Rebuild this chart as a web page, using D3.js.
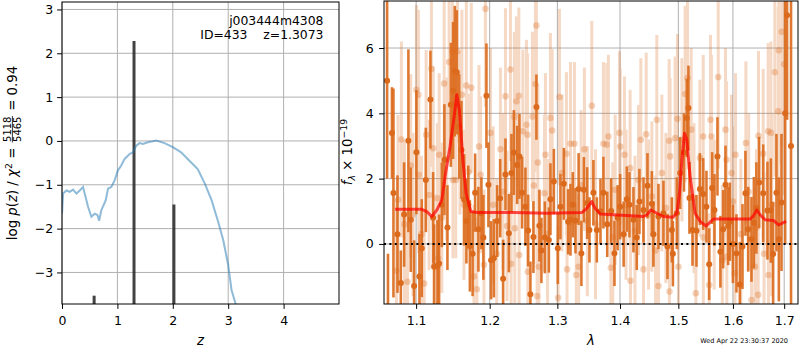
<!DOCTYPE html>
<html><head><meta charset="utf-8">
<script src="https://cdn.jsdelivr.net/npm/d3@7"></script>
<style>body{margin:0;background:#fff} svg{display:block} text{font-family:"DejaVu Sans",sans-serif;white-space:pre}</style>
</head><body><svg id="c" width="800" height="350"></svg>
<script>
// ---------- left panel data: p(z) ----------
const pzZ   = [0.00,0.02,0.08,0.14,0.20,0.26,0.32,0.38,0.41,0.47,0.53,0.59,0.64,0.67,0.71,0.79,0.83,0.89,0.95,1.01,1.07,1.13,1.22,1.28,1.34,1.40,1.46,1.55,1.70,1.85,2.00,2.15,2.30,2.45,2.58,2.70,2.82,2.91,3.00,3.06,3.13,3.16];
const pzLog = [-1.66,-1.20,-1.13,-1.16,-1.11,-1.20,-1.13,-1.05,-1.20,-1.50,-1.73,-1.66,-1.69,-1.82,-1.58,-1.35,-1.09,-1.05,-0.90,-0.67,-0.56,-0.41,-0.30,-0.26,-0.11,-0.05,-0.07,-0.03,0.01,-0.05,-0.14,-0.26,-0.45,-0.64,-0.98,-1.35,-1.85,-2.26,-2.83,-3.40,-3.70,-3.80];
const barZ   = [0.58, 1.30, 2.02];
const barTop = [-3.53, 2.28, -1.45];
const zTicks = [0,1,2,3,4];
const logpTicks = [-3,-2,-1,0,1,2,3];
const titleLines = ["j003444m4308", "ID=433    z=1.3073"];

// ---------- right panel data: spectrum ----------
const darkLam  = [1.0629,1.0640,1.0690,1.0709,1.0760,1.0803,1.0845,1.0900,1.0931,1.0974,1.1004,1.1043,1.1074,1.1127,1.1188,1.1223,1.1237,1.1281,1.1303,1.1340,1.1374,1.1415,1.1461,1.1492,1.1515,1.1542,1.1575,1.1606,1.1643,1.1674,1.1700,1.1722,1.1760,1.1795,1.1841,1.1883,1.1911,1.1954,1.1982,1.2020,1.2059,1.2106,1.2150,1.2192,1.2226,1.2275,1.2313,1.2348,1.2396,1.2430,1.2469,1.2518,1.2558,1.2592,1.2637,1.2682,1.2727,1.2757,1.2809,1.2870,1.2894,1.2946,1.3007,1.3047,1.3100,1.3167,1.3203,1.3240,1.3281,1.3331,1.3375,1.3414,1.3466,1.3503,1.3566,1.3621,1.3680,1.3728,1.3790,1.3854,1.3908,1.3960,1.4002,1.4060,1.4113,1.4157,1.4224,1.4280,1.4325,1.4394,1.4462,1.4537,1.4564,1.4651,1.4738,1.4808,1.4885,1.4903,1.4973,1.5032,1.5100,1.5151,1.5180,1.5198,1.5253,1.5325,1.5387,1.5447,1.5507,1.5557,1.5612,1.5654,1.5710,1.5765,1.5816,1.5860,1.5910,1.5942,1.6000,1.6067,1.6132,1.6182,1.6239,1.6291,1.6355,1.6401,1.6450,1.6504,1.6583,1.6667,1.6734,1.6779,1.6845,1.6893,1.6946,1.7020,1.7058,1.7138];
const darkFlux = [5.0,-2.3,3.4,1.56,0.3,-1.2,0.9,3.16,0.74,-1.29,2.81,-1.0,-0.13,1.96,4.42,0.8,-0.7,-0.67,-0.6,1.2,2.58,0.5,4.26,4.7,5.29,5.26,3.6,2.88,1.35,0.7,1.2,-0.06,-0.3,1.57,0.45,0.94,0.2,4.54,1.81,-0.5,-0.44,0.7,1.4,-1.07,2.13,0.33,2.17,2.8,2.42,2.68,1.57,1.14,0.41,-1.54,0.21,4.19,0.56,-0.2,0.2,0.12,1.37,1.91,-0.13,1.14,1.84,0.68,0.74,1.2,0.71,1.68,-0.29,1.66,1.25,0.43,1.57,0.43,1.0,1.57,0.6,1.01,-0.29,0.8,1.14,0.3,1.37,1.2,0.74,0.2,1.3,1.04,1.78,1.23,0.3,0.84,0.94,-0.08,0.43,-0.3,0.94,2.17,2.8,3.86,4.16,1.41,0.43,0.4,1.68,1.53,1.14,-0.62,1.71,1.04,2.68,-0.24,0.45,1.81,0.55,0.68,0.0,-0.29,-1.24,-0.08,1.55,0.45,0.14,0.65,1.1,1.88,1.55,1.02,1.02,-0.31,1.57,0.14,1.27,4.0,7.0,3.0];
const darkErr  = [3.0,2.0,1.4,3.2,1.8,1.0,1.6,2.8,1.6,1.4,1.9,1.3,1.5,1.6,1.5,1.4,1.3,1.4,1.5,1.3,1.7,1.3,1.9,2.1,2.0,1.9,1.6,1.5,1.4,1.3,1.2,1.4,1.3,1.2,1.3,1.1,1.3,1.6,1.3,1.2,1.2,1.1,1.2,1.2,1.1,1.2,1.2,1.3,1.2,1.3,1.1,1.2,1.1,1.0,1.1,1.0,1.1,1.0,1.1,1.0,1.1,1.0,1.1,1.0,1.1,1.0,1.1,1.0,1.0,1.1,1.0,1.0,1.1,1.0,1.0,1.0,1.0,1.1,1.0,1.0,1.0,1.0,1.0,1.0,1.0,1.0,1.0,1.0,1.0,1.0,1.0,1.0,1.0,1.0,1.0,1.0,1.0,1.0,1.1,1.1,1.2,1.2,1.3,1.1,1.1,1.1,1.1,1.1,1.1,1.1,1.1,1.1,1.2,1.1,1.2,1.2,1.2,1.2,1.2,1.2,1.3,1.3,1.3,1.3,1.3,1.4,1.4,1.4,1.5,1.5,1.6,1.6,1.8,1.9,2.1,4.0,3.2,6.0];

const lightLam  = [1.0747,1.0768,1.0810,1.0850,1.0888,1.0930,1.0960,1.1004,1.1030,1.1035,1.1070,1.1105,1.1131,1.1170,1.1201,1.1224,1.1237,1.1281,1.1290,1.1304,1.1340,1.1371,1.1405,1.1438,1.1482,1.1490,1.1528,1.1551,1.1585,1.1612,1.1640,1.1673,1.1705,1.1742,1.1779,1.1819,1.1849,1.1872,1.1919,1.1940,1.2011,1.2050,1.2100,1.2153,1.2190,1.2226,1.2249,1.2298,1.2308,1.2356,1.2362,1.2386,1.2421,1.2425,1.2480,1.2533,1.2548,1.2554,1.2622,1.2644,1.2667,1.2682,1.2693,1.2703,1.2718,1.2803,1.2818,1.2850,1.2894,1.2920,1.3011,1.3032,1.3071,1.3140,1.3150,1.3203,1.3265,1.3294,1.3331,1.3370,1.3423,1.3470,1.3540,1.3600,1.3728,1.3783,1.3809,1.3849,1.3880,1.3920,1.3991,1.4002,1.4073,1.4100,1.4168,1.4175,1.4250,1.4309,1.4349,1.4394,1.4440,1.4480,1.4537,1.4600,1.4623,1.4651,1.4710,1.4780,1.4838,1.4843,1.4855,1.4944,1.4984,1.5002,1.5063,1.5121,1.5163,1.5229,1.5280,1.5314,1.5387,1.5447,1.5450,1.5557,1.5581,1.5599,1.5650,1.5724,1.5800,1.5860,1.5879,1.5885,1.5973,1.6000,1.6037,1.6049,1.6150,1.6247,1.6300,1.6355,1.6421,1.6450,1.6485,1.6491,1.6583,1.6600,1.6681,1.6687,1.6734,1.6750,1.6813,1.6879,1.6893,1.6950,1.7000];
const lightFlux = [-0.82,1.35,3.2,0.6,-1.16,2.4,0.9,4.72,4.57,2.12,0.3,-1.21,3.34,1.5,5.36,2.93,-0.67,1.4,-0.44,2.73,0.8,4.91,2.6,5.57,5.9,1.96,1.96,5.9,3.4,4.57,1.2,4.85,2.2,4.78,-1.0,-1.39,2.98,2.12,-0.64,7.2,3.4,1.2,-0.3,2.9,1.6,4.52,0.55,5.34,-0.61,3.89,0.48,4.37,4.54,-0.34,3.45,3.65,3.34,-0.85,3.9,1.79,4.9,6.69,-1.6,2.49,-0.7,1.55,2.73,0.3,3.86,3.47,-1.65,4.5,2.17,2.76,-0.78,3.07,3.07,-0.95,-0.7,1.8,2.9,0.7,4.23,0.6,3.07,3.04,3.29,-0.73,0.2,1.66,3.4,2.98,2.73,1.2,2.32,-1.13,0.4,1.96,3.19,-0.78,3.36,0.9,1.45,-0.2,3.8,-1.29,2.17,1.1,3.16,-1.46,2.68,3.24,3.83,-0.7,3.19,4.59,5.08,3.5,1.4,-1.51,2.63,3.29,0.2,-1.26,3.8,3.29,0.9,5.11,-0.5,3.5,2.58,-0.39,2.17,1.3,-0.9,2.73,0.3,3.09,1.6,-1.72,-0.7,0.5,-1.56,3.31,2.76,-0.3,3.45,-0.95,3.4,1.2,5.26,4.06,5.93,6.5,5.5];
const lightErr  = [2.2,2.6,3.0,2.6,2.2,2.8,2.5,2.6,2.6,2.4,2.4,2.2,2.6,2.3,3.0,2.5,2.2,2.3,2.2,2.5,2.3,2.8,2.5,2.8,2.8,2.4,2.4,2.8,2.5,2.6,2.3,2.6,2.4,2.6,2.2,2.2,2.5,2.4,2.3,3.0,2.6,2.4,2.3,2.5,2.4,2.7,2.3,2.8,2.2,2.6,2.3,2.6,2.7,2.3,2.5,2.6,2.5,2.3,2.6,2.4,2.7,3.0,2.2,2.4,2.2,2.4,2.5,2.3,2.6,2.5,2.2,2.7,2.4,2.5,2.2,2.5,2.5,2.2,2.2,2.3,2.5,2.3,2.6,2.3,2.5,2.5,2.5,2.2,2.3,2.3,2.5,2.4,2.4,2.3,2.4,2.2,2.3,2.3,2.5,2.2,2.5,2.3,2.3,2.3,2.6,2.2,2.4,2.3,2.5,2.2,2.4,2.5,2.6,2.2,2.5,2.7,2.8,2.5,2.3,2.2,2.4,2.5,2.3,2.2,2.6,2.5,2.3,2.8,2.3,2.5,2.4,2.3,2.4,2.3,2.3,2.5,2.3,2.5,2.4,2.3,2.4,2.4,2.4,2.6,2.6,2.5,2.7,2.5,2.8,2.8,3.2,3.2,3.5,3.5,4.0];

const modelLam  = [1.073,1.1074,1.1140,1.1206,1.1273,1.1340,1.1384,1.1451,1.1506,1.1542,1.1578,1.1625,1.1670,1.1735,1.1819,1.2342,1.2839,1.3382,1.3461,1.3540,1.3593,1.3674,1.3890,1.4394,1.4452,1.4520,1.4624,1.4738,1.4903,1.4974,1.5020,1.5063,1.5109,1.5151,1.5210,1.5300,1.5391,1.5500,1.5634,1.5946,1.6329,1.6393,1.6459,1.6523,1.6621,1.6785,1.6886,1.6953,1.7040];
const modelFlux = [1.06,1.06,0.99,0.84,1.04,1.35,2.07,2.99,3.90,4.57,4.11,2.58,1.55,0.99,0.96,0.96,0.94,0.96,1.09,1.30,1.09,0.92,0.89,0.84,0.89,1.04,0.94,0.84,0.82,0.94,1.55,2.58,3.39,3.19,2.07,0.94,0.69,0.55,0.76,0.76,0.76,0.86,1.04,0.89,0.74,0.72,0.58,0.63,0.69];
const lamTicks = [1.1,1.2,1.3,1.4,1.5,1.6,1.7];
const fluxTicks = [0,2,4,6];
const stamp = "Wed Apr 22 23:30:37 2020";

// ---------- drawing ----------
const svg = d3.select('#c');
const FONT = 'DejaVu Sans';
const TICKFS = 12.5, LABFS = 13.3;
const gridCol = '#b0b0b0';
const dark = '#dc6a1c';

function styleAxis(g){
  g.select('.domain').remove();
  g.attr('font-family', FONT).attr('font-size', TICKFS);
  g.selectAll('text').attr('fill','#000');
  g.selectAll('.tick line').attr('stroke','#000').attr('stroke-width',1);
}

// LEFT PANEL
const L = {x0:62, x1:339, y0:2, y1:304};
const xL = d3.scaleLinear().domain([0,5]).range([L.x0, L.x1]);
const yL = d3.scaleLinear().domain([-3.72,3.17]).range([L.y1, L.y0]);
svg.append('clipPath').attr('id','clipL').append('rect')
  .attr('x',L.x0).attr('y',L.y0).attr('width',L.x1-L.x0).attr('height',L.y1-L.y0);
const gL = svg.append('g');
gL.selectAll('.gx').data(zTicks).join('line')
  .attr('x1',d=>xL(d)).attr('x2',d=>xL(d)).attr('y1',L.y0).attr('y2',L.y1)
  .attr('stroke',gridCol).attr('stroke-width',1);
gL.selectAll('.gy').data(logpTicks).join('line')
  .attr('y1',d=>yL(d)).attr('y2',d=>yL(d)).attr('x1',L.x0).attr('x2',L.x1)
  .attr('stroke',gridCol).attr('stroke-width',1);
const pL = gL.append('g').attr('clip-path','url(#clipL)');
pL.selectAll('.bar').data(barZ).join('line')
  .attr('x1',d=>xL(d)).attr('x2',d=>xL(d))
  .attr('y1',yL(-3.72)).attr('y2',(d,i)=>yL(barTop[i]))
  .attr('stroke','#222').attr('stroke-opacity',0.85).attr('stroke-width',3);
pL.append('path')
  .attr('d', d3.line().x((d,i)=>xL(pzZ[i])).y(d=>yL(d))(pzLog))
  .attr('fill','none').attr('stroke','#1f77b4').attr('stroke-opacity',0.5).attr('stroke-width',2);
gL.append('rect').attr('x',L.x0).attr('y',L.y0).attr('width',L.x1-L.x0).attr('height',L.y1-L.y0)
  .attr('fill','none').attr('stroke','#000').attr('stroke-width',1);
styleAxis(svg.append('g').attr('transform',`translate(0,${L.y1})`)
  .call(d3.axisBottom(xL).tickValues(zTicks).tickFormat(d3.format('d')).tickSize(4.9).tickPadding(7)));
styleAxis(svg.append('g').attr('transform',`translate(${L.x0},0)`)
  .call(d3.axisLeft(yL).tickValues(logpTicks).tickFormat(d3.format('d')).tickSize(4.9).tickPadding(4)));
titleLines.forEach((t,i)=>{
  svg.append('text').attr('x',323.5).attr('y',25+i*13.5).attr('text-anchor','end')
    .attr('font-size',12.4).text(t);
});
svg.append('text').attr('x',(L.x0+L.x1)/2).attr('y',345).attr('text-anchor','middle')
  .attr('font-size',LABFS).attr('font-style','italic').text('z');

// rich label helper
function richLabel(parent, parts){
  const g = parent.append('g');
  let x = 0;
  parts.forEach(p=>{
    if(p.frac){
      const n = g.append('text').attr('y',p.numY).attr('font-size',p.size).text(p.frac[0]);
      const d = g.append('text').attr('y',p.denY).attr('font-size',p.size).text(p.frac[1]);
      const wn = n.node().getComputedTextLength(), wd = d.node().getComputedTextLength();
      const w = Math.max(wn,wd);
      n.attr('x', x+1.5+(w-wn)/2); d.attr('x', x+1.5+(w-wd)/2);
      g.append('line').attr('x1',x+1).attr('x2',x+2+w).attr('y1',p.barY).attr('y2',p.barY)
        .attr('stroke','#000').attr('stroke-width',0.8);
      x += w+3;
    } else {
      const t = g.append('text').attr('x',x).attr('y',p.y||0).attr('font-size',p.size)
        .attr('font-style',p.it?'italic':null).text(p.t);
      x += t.node().getComputedTextLength();
    }
  });
  g.selectAll('*').each(function(){
    const s=d3.select(this);
    if(this.tagName==='line'){ s.attr('x1',+s.attr('x1')-x/2).attr('x2',+s.attr('x2')-x/2); }
    else s.attr('x',+s.attr('x')-x/2);
  });
  return g;
}
const yl = svg.append('g').attr('transform','translate(17,153) rotate(-90)');
richLabel(yl,[
  {t:'log ',size:LABFS},{t:'p',it:1,size:LABFS},{t:'(',size:LABFS},{t:'z',it:1,size:LABFS},
  {t:') / ',size:LABFS},{t:'χ',it:1,size:LABFS},{t:'2',size:9.4,y:-5.5},{t:' = ',size:LABFS},
  {frac:['5118','5465'],size:10,numY:-5.6,barY:-4.6,denY:3.8},{t:' = 0.94',size:LABFS}
]);

// RIGHT PANEL
const R = {x0:384, x1:798, y0:1, y1:304};
const xR = d3.scaleLog().domain([1.059,1.728]).range([R.x0,R.x1]);
const yR = d3.scaleLinear().domain([-1.84,7.44]).range([R.y1,R.y0]);
svg.append('clipPath').attr('id','clipR').append('rect')
  .attr('x',R.x0).attr('y',R.y0).attr('width',R.x1-R.x0).attr('height',R.y1-R.y0);
const gR = svg.append('g');
gR.selectAll('.gx').data(lamTicks).join('line')
  .attr('x1',d=>xR(d)).attr('x2',d=>xR(d)).attr('y1',R.y0).attr('y2',R.y1)
  .attr('stroke',gridCol).attr('stroke-width',1);
gR.selectAll('.gy').data(fluxTicks).join('line')
  .attr('y1',d=>yR(d)).attr('y2',d=>yR(d)).attr('x1',R.x0).attr('x2',R.x1)
  .attr('stroke',gridCol).attr('stroke-width',1);
const pR = gR.append('g').attr('clip-path','url(#clipR)');
const lightIdx = d3.range(lightLam.length), darkIdx = d3.range(darkLam.length);
const gl = pR.append('g').attr('opacity',0.25);
gl.selectAll('line').data(lightIdx).join('line')
  .attr('x1',i=>xR(lightLam[i])).attr('x2',i=>xR(lightLam[i]))
  .attr('y1',i=>yR(lightFlux[i]-lightErr[i])).attr('y2',i=>yR(lightFlux[i]+lightErr[i]))
  .attr('stroke',dark).attr('stroke-width',3);
pR.selectAll('.lc').data(lightIdx).join('circle')
  .attr('cx',i=>xR(lightLam[i])).attr('cy',i=>yR(lightFlux[i])).attr('r',3.3)
  .attr('fill',dark).attr('fill-opacity',0.3);
pR.selectAll('.dl').data(darkIdx).join('line')
  .attr('x1',i=>xR(darkLam[i])).attr('x2',i=>xR(darkLam[i]))
  .attr('y1',i=>yR(darkFlux[i]-darkErr[i])).attr('y2',i=>yR(darkFlux[i]+darkErr[i]))
  .attr('stroke',dark).attr('stroke-opacity',0.9).attr('stroke-width',2.6);
pR.selectAll('.dc').data(darkIdx).join('circle')
  .attr('cx',i=>xR(darkLam[i])).attr('cy',i=>yR(darkFlux[i])).attr('r',3)
  .attr('fill',dark);
pR.append('path')
  .attr('d', d3.line().x((d,i)=>xR(modelLam[i])).y(d=>yR(d))(modelFlux))
  .attr('fill','none').attr('stroke','#ff0000').attr('stroke-opacity',0.7).attr('stroke-width',3)
  .attr('stroke-linejoin','round');
pR.append('line').attr('x1',R.x0).attr('x2',R.x1).attr('y1',yR(0)).attr('y2',yR(0))
  .attr('stroke','#000').attr('stroke-width',2).attr('stroke-dasharray','2,3.4');
gR.append('rect').attr('x',R.x0).attr('y',R.y0).attr('width',R.x1-R.x0).attr('height',R.y1-R.y0)
  .attr('fill','none').attr('stroke','#000').attr('stroke-width',1);
styleAxis(svg.append('g').attr('transform',`translate(0,${R.y1})`)
  .call(d3.axisBottom(xR).tickValues(lamTicks).tickFormat(d3.format('.1f')).tickSize(4.9).tickPadding(7)));
styleAxis(svg.append('g').attr('transform',`translate(${R.x0},0)`)
  .call(d3.axisLeft(yR).tickValues(fluxTicks).tickFormat(d3.format('d')).tickSize(4.9).tickPadding(5.5)));
svg.append('text').attr('x',(R.x0+R.x1)/2).attr('y',345).attr('text-anchor','middle')
  .attr('font-size',LABFS).attr('font-style','italic').text('λ');
const yr = svg.append('g').attr('transform','translate(352,152) rotate(-90)');
richLabel(yr,[
  {t:'f',it:1,size:LABFS},{t:'λ',it:1,size:9.4,y:3},{t:' × 10',size:LABFS},{t:'−19',size:9.4,y:-5.5}
]);
svg.append('text').attr('x',788).attr('y',343).attr('text-anchor','end')
  .attr('font-size',6.5).text(stamp);
</script></body></html>
